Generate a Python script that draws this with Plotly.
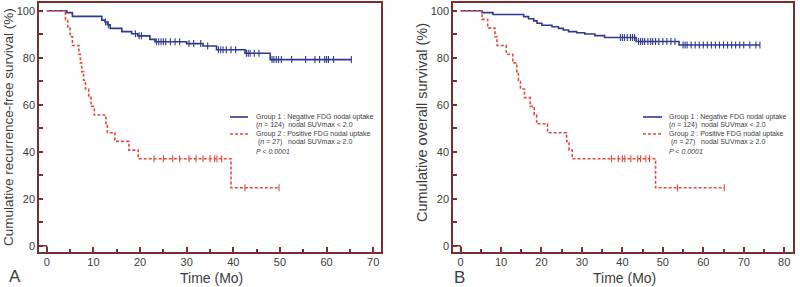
import numpy as np
import plotly.graph_objects as go

# ---------------- data ----------------
# Panel A: recurrence-free survival
a_g1_times = [4.3, 5.5, 11.8, 12.5, 13.0, 13.6, 16.1, 18.2, 19.5, 22.1, 23.2, 30.0, 33.5, 36.4, 42.5, 47.9]
a_g1_surv = [99.2, 97.6, 96.0, 95.2, 94.0, 92.5, 91.1, 90.2, 89.3, 87.8, 86.8, 86.0, 85.0, 83.4, 81.9, 79.2]
a_g1_end = 65.3
a_g1_cens = [12.6, 13.2, 19.0, 19.8, 20.3, 23.5, 24.0, 24.5, 25.0, 25.5, 26.5, 27.5, 28.5, 30.5, 31.5,
             33.0, 34.5, 36.8, 37.3, 37.8, 38.5, 39.5, 40.5, 42.8, 43.2, 43.6, 44.5, 45.5, 48.3, 48.7,
             49.2, 49.7, 50.3, 52.5, 55.5, 57.5, 58.5, 59.6, 60.0, 60.4, 61.5, 65.3]

a_g2_times = [4.0, 4.5, 5.0, 5.5, 6.9, 7.2, 7.5, 7.9, 8.3, 9.0, 9.5, 10.2, 12.7, 13.0, 14.6, 17.6, 19.6, 39.5]
a_g2_surv = [96.3, 92.6, 88.9, 85.2, 81.5, 77.8, 74.1, 70.4, 66.7, 63.0, 59.3, 55.6, 51.9, 48.1, 44.4, 40.7, 37.0, 24.7]
a_g2_end = 49.8
a_g2_cens = [23.0, 25.0, 27.0, 28.5, 30.5, 32.0, 33.5, 35.0, 36.0, 36.5, 37.5, 42.5, 49.8]

# Panel B: overall survival
b_g1_times = [5.3, 8.0, 15.6, 16.8, 18.1, 18.9, 20.1, 22.6, 24.2, 25.4, 26.7, 28.7, 30.7, 33.2, 35.6, 43.4, 54.0]
b_g1_surv = [99.2, 98.4, 97.5, 96.6, 95.7, 94.7, 93.8, 93.2, 92.5, 91.8, 91.1, 90.6, 90.1, 89.4, 88.6, 86.9, 85.4]
b_g1_end = 74.0
b_g1_cens = [39.5, 40.0, 40.5, 41.2, 42.0, 42.5, 43.0, 44.0, 44.5, 45.0, 45.5, 46.3, 47.0, 47.5, 48.2,
             49.0, 50.0, 51.0, 52.0, 53.0, 55.0, 55.5, 56.0, 57.0, 58.0, 59.0, 60.0, 61.0, 62.0, 63.0,
             64.0, 65.0, 66.0, 67.0, 68.0, 69.0, 70.0, 71.5, 73.0, 74.0]

b_g2_times = [5.3, 6.7, 8.5, 9.0, 11.3, 12.9, 13.9, 14.3, 14.8, 15.8, 17.2, 18.2, 18.8, 21.5, 26.2, 26.8, 27.6, 48.2]
b_g2_surv = [96.3, 92.6, 88.9, 85.2, 81.5, 77.8, 74.1, 70.4, 66.7, 63.0, 59.3, 55.6, 51.9, 48.1, 44.4, 40.7, 37.0, 24.7]
b_g2_end = 65.2
b_g2_cens = [37.3, 39.0, 40.0, 40.6, 42.1, 43.8, 44.5, 45.8, 46.7, 53.6, 65.2]

y_ticks = [0, 20, 40, 60, 80, 100]
a_x_ticks = [0, 10, 20, 30, 40, 50, 60, 70]
b_x_ticks = [0, 10, 20, 30, 40, 50, 60, 70, 80]

a_xrange = [-1.6, 71.6]
b_xrange = [-1.8, 82.1]
yrange = [-2.8, 103.5]

legend_lines = [
    "Group 1 : Negative FDG nodal uptake",
    "(<i>n</i> = 124)\u00a0\u00a0nodal SUVmax < 2.0",
    "Group 2 : Positive FDG nodal uptake",
    "\u00a0(<i>n</i> = 27)\u00a0\u00a0\u00a0nodal SUVmax \u2265 2.0",
    "<i>P < 0.0001</i>",
]

BLUE = "#2d3a8f"
RED = "#e5493c"
FRAME = "#7a2f2f"
TXT = "#3c3c3c"
FONT = "Liberation Sans, Arial, sans-serif"


def step_xy(times, surv, end):
    x = [0.0] + list(times) + [end]
    y = [100.0] + list(surv) + [surv[-1]]
    return x, y


def surv_at(times, surv, t):
    idx = np.searchsorted(np.array(times), np.array(t), side="right")
    vals = np.array([100.0] + list(surv))
    return vals[idx]


fig = go.Figure()

panels = [
    ("x", "y", a_g1_times, a_g1_surv, a_g1_end, a_g1_cens, a_g2_times, a_g2_surv, a_g2_end, a_g2_cens),
    ("x2", "y2", b_g1_times, b_g1_surv, b_g1_end, b_g1_cens, b_g2_times, b_g2_surv, b_g2_end, b_g2_cens),
]

for xa, ya, t1, s1, e1, c1, t2, s2, e2, c2 in panels:
    x, y = step_xy(t1, s1, e1)
    fig.add_trace(go.Scatter(x=x, y=y, xaxis=xa, yaxis=ya, mode="lines", line_shape="hv",
                             line=dict(color=BLUE, width=1.6), showlegend=False, hoverinfo="skip"))
    fig.add_trace(go.Scatter(x=c1, y=surv_at(t1, s1, c1), xaxis=xa, yaxis=ya, mode="markers",
                             marker=dict(symbol="line-ns-open", size=5, color=BLUE,
                                         line=dict(color=BLUE, width=1.1)),
                             showlegend=False, hoverinfo="skip"))
    x, y = step_xy(t2, s2, e2)
    fig.add_trace(go.Scatter(x=x, y=y, xaxis=xa, yaxis=ya, mode="lines", line_shape="hv",
                             line=dict(color=RED, width=1.6, dash="3px,2px"), showlegend=False, hoverinfo="skip"))
    fig.add_trace(go.Scatter(x=c2, y=surv_at(t2, s2, c2), xaxis=xa, yaxis=ya, mode="markers",
                             marker=dict(symbol="line-ns-open", size=5, color=RED,
                                         line=dict(color=RED, width=1.1)),
                             showlegend=False, hoverinfo="skip"))

ydom = [1 - 252.3 / 287, 1 - 2.5 / 287]
axis_common = dict(showline=True, mirror=True, linecolor=FRAME, linewidth=2, showgrid=False, zeroline=False,
                   ticks="inside", tickcolor=FRAME, tickwidth=1.5, automargin=False,
                   tickfont=dict(family=FONT, size=11, color=TXT))

fig.update_layout(
    width=800, height=287, margin=dict(l=0, r=0, t=0, b=0, autoexpand=False),
    paper_bgcolor="white", plot_bgcolor="white",
    xaxis=dict(domain=[39.3 / 800, 380.7 / 800], range=a_xrange, tickvals=a_x_ticks, ticklen=5,
               ticklabelstandoff=-2,
               minor=dict(dtick=5, tick0=0, ticks="inside", ticklen=3, tickcolor=FRAME),
               anchor="y", **axis_common),
    yaxis=dict(domain=ydom, range=yrange, tickvals=y_ticks, ticklen=4,
               minor=dict(dtick=10, tick0=0, ticks="inside", ticklen=4, tickcolor=FRAME),
               anchor="x", **axis_common),
    xaxis2=dict(domain=[453.3 / 800, 792.7 / 800], range=b_xrange, tickvals=b_x_ticks, ticklen=5,
                ticklabelstandoff=-2,
                minor=dict(dtick=5, tick0=0, ticks="inside", ticklen=3, tickcolor=FRAME),
                anchor="y2", **axis_common),
    yaxis2=dict(domain=ydom, range=yrange, tickvals=y_ticks, ticklen=4,
                minor=dict(dtick=10, tick0=0, ticks="inside", ticklen=4, tickcolor=FRAME),
                anchor="x2", **axis_common),
)

# origin corner bracket
for xa, ya, xr in (("x", "y", a_xrange), ("x2", "y2", b_xrange)):
    fig.add_shape(type="line", xref=xa, yref=ya, x0=xr[0], x1=0, y0=0, y1=0, line=dict(color=FRAME, width=1.5))
    fig.add_shape(type="line", xref=xa, yref=ya, x0=0, x1=0, y0=yrange[0], y1=0, line=dict(color=FRAME, width=1.5))


def label(text, px, py, size, angle=0):
    fig.add_annotation(text=text, xref="paper", yref="paper", x=px / 800, y=1 - py / 287,
                       xanchor="center", yanchor="middle", textangle=angle, showarrow=False,
                       font=dict(family=FONT, size=size, color=TXT))


# axis titles and panel letters
label("Cumulative recurrence-free survival (%)", 9, 127, 13.5, -90)
label("Cumulative overall survival (%)", 422, 123, 14.5, -90)
label("Time (Mo)", 211.7, 278, 14)
label("Time (Mo)", 624.0, 278, 14)
label("A", 15, 276, 17)
label("B", 460, 277, 17)

# legends
line_ys = [117, 125, 134, 142, 151]
for lx0, lx1, tx in ((230, 248, 254), (643, 662, 667)):
    fig.add_shape(type="line", xref="paper", yref="paper", x0=lx0 / 800, x1=lx1 / 800,
                  y0=1 - 117 / 287, y1=1 - 117 / 287, line=dict(color=BLUE, width=1.6))
    fig.add_shape(type="line", xref="paper", yref="paper", x0=lx0 / 800, x1=lx1 / 800,
                  y0=1 - 134 / 287, y1=1 - 134 / 287, line=dict(color=RED, width=1.6, dash="3px,2px"))
    for txt, yy in zip(legend_lines, line_ys):
        fig.add_annotation(text=txt, xref="paper", yref="paper", x=tx / 800, y=1 - yy / 287,
                           xanchor="left", yanchor="middle", showarrow=False,
                           font=dict(family=FONT, size=7, color=TXT))

fig.write_html("out.html", config={"displayModeBar": False},
               post_script="document.body.style.margin='0px';document.body.style.overflow='hidden';")
